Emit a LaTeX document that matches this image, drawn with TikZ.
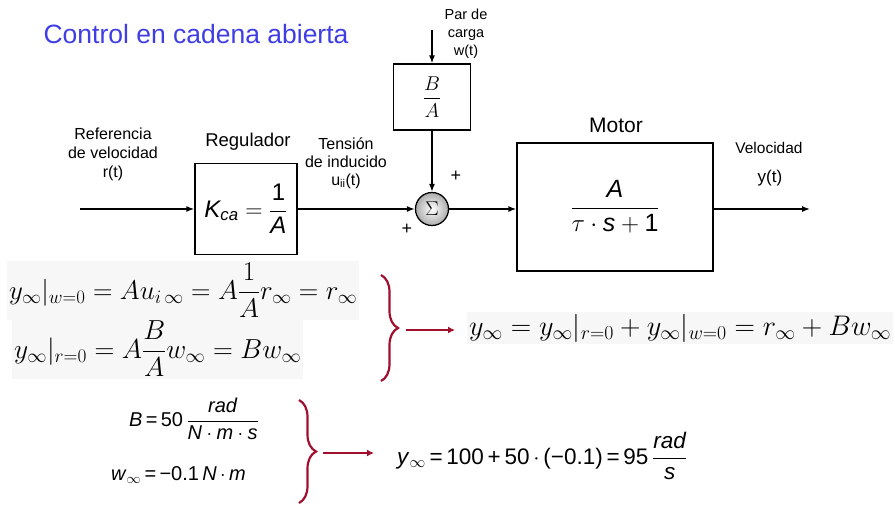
\RequirePackage{fix-cm}
\documentclass[tikz,border=0pt]{standalone}
\usepackage{amsmath}
\usepackage[no-math]{fontspec}
\setmainfont{Liberation Sans}
\usetikzlibrary{arrows.meta,decorations.pathreplacing}
\definecolor{titleblue}{RGB}{62,62,228}
\definecolor{bracered}{RGB}{160,16,46}

\begin{document}
\begin{tikzpicture}[x=1pt,y=-1pt,
		block/.style={draw,line width=1.3pt,inner sep=0pt},
		sig/.style={line width=1.3pt,-{Latex[length=8pt,width=6pt]}},
		lbl/.style={align=center,inner sep=0pt},
		eqbg/.style={fill=black!3,inner sep=2pt},
		redarr/.style={draw=bracered,line width=2.2pt,-{Latex[length=7pt,width=7pt]}},
		redbrace/.style={draw=bracered,line width=2.2pt,decorate,decoration={brace,amplitude=17pt}}]
		\useasboundingbox (0,0) rectangle (895,504);
		% title
		\node[anchor=west,text=titleblue,font=\fontsize{26.5}{30}\selectfont] (title) at (40,34) {Control en cadena abierta};
		% blocks
		\node[block,minimum width=102,minimum height=91,font=\fontsize{24}{28}\selectfont] (reg) at (246,209)
			{$\textit{K}_{\textit{ca}}=\dfrac{\text{1}}{\textit{A}}$};
		\node[block,minimum width=77,minimum height=66,font=\fontsize{20}{24}\selectfont] (ba) at (432,97) {$\dfrac{B}{A}$};
		\node[circle,draw,line width=1.3pt,minimum size=33,inner sep=0pt,shade,inner color=white,outer color=gray!65,font=\fontsize{20}{22}\selectfont] (sum) at (432,209) {$\Sigma$};
		\node[block,minimum width=196,minimum height=128,font=\fontsize{25}{30}\selectfont] (motor) at (615,207)
			{$\dfrac{\textit{A}}{\tau\cdot\textit{s}+\text{1}}$};
		% free ends
		\coordinate (rin) at (80,209);
		\coordinate (yout) at (810,209);
		\coordinate (win) at (432,30);
		% signals
		\draw[sig] (rin) -- (reg);
		\draw[sig] (reg) -- (sum);
		\draw[sig] (sum) -- (sum -| motor.west);
		\draw[sig] (sum -| motor.east) -- (yout);
		\draw[sig] (win) -- (ba);
		\draw[sig] (ba) -- (sum);
		% labels
		\node[lbl,font=\fontsize{14.5}{18}\selectfont] (par) at (466,34) {Par de\\carga\\w(t)};
		\node[lbl,font=\fontsize{16}{19}\selectfont] (ref) at (113,154) {Referencia\\de velocidad\\r(t)};
		\node[lbl,font=\fontsize{18.5}{20}\selectfont] (reglbl) at (248,142) {Regulador};
		\node[lbl,font=\fontsize{16}{18}\selectfont] (tens) at (346,163) {Tensión\\de inducido\\u\textsubscript{ii}(t)};
		\node[lbl,font=\fontsize{21}{24}\selectfont] (motlbl) at (616,125) {Motor};
		\node[lbl,font=\fontsize{15.5}{18}\selectfont] (vel) at (769,148) {Velocidad};
		\node[lbl,font=\fontsize{17}{18}\selectfont] (yt) at (770,178) {y(t)};
		\node[lbl,font=\fontsize{18}{20}\selectfont] (plustop) at (456,176) {+};
		\node[lbl,font=\fontsize{18}{20}\selectfont] (plusbot) at (407,229) {+};
		% superposition
		\node[eqbg,anchor=base west,font=\fontsize{27}{30}\selectfont] (eqw) at (7,299)
			{$y_\infty|_{w=0}=Au_{i\,\infty}=A\dfrac{1}{A}r_\infty=r_\infty$};
		\node[eqbg,anchor=base west,font=\fontsize{27.5}{30}\selectfont] (eqr) at (12,358)
			{$y_\infty|_{r=0}=A\dfrac{B}{A}w_\infty=Bw_\infty$};
		\node[eqbg,anchor=base west,font=\fontsize{28.3}{30}\selectfont] (eqy) at (467,335)
			{$y_\infty=y_\infty|_{r=0}+y_\infty|_{w=0}=r_\infty+Bw_\infty$};
		\coordinate (b1top) at (381,275);
		\coordinate (b1bot) at (381,381);
		\draw[redbrace] (b1top) -- (b1bot);
		\coordinate (a1s) at (406,330);
		\coordinate (a1e) at (455,330);
		\draw[redarr] (a1s) -- (a1e);
		% numbers
		\node[anchor=base west,inner sep=0pt,font=\fontsize{20}{22}\selectfont] (eqb) at (129,426)
			{\textit{B}\,=\,50\,$\dfrac{\textit{rad}}{\textit{N}\cdot\textit{m}\cdot\textit{s}}$};
		\node[anchor=base west,inner sep=0pt,font=\fontsize{20}{22}\selectfont] (eqwn) at (111,480)
			{\textit{w}$_\infty$\,=\,−0.1\,\textit{N}$\,\cdot\,$\textit{m}};
		\node[anchor=base west,inner sep=0pt,font=\fontsize{22.5}{26}\selectfont] (eqyn) at (397,464)
			{\textit{y}$_\infty$\,=\,100\,+\,50$\,\cdot\,$(−0.1)\,=\,95\,$\dfrac{\textit{rad}}{\textit{s}}$};
		\coordinate (b2top) at (299,400);
		\coordinate (b2bot) at (299,503);
		\draw[redbrace] (b2top) -- (b2bot);
		\coordinate (a2s) at (323,453);
		\coordinate (a2e) at (374,453);
		\draw[redarr] (a2s) -- (a2e);
	\end{tikzpicture}
\end{document}
